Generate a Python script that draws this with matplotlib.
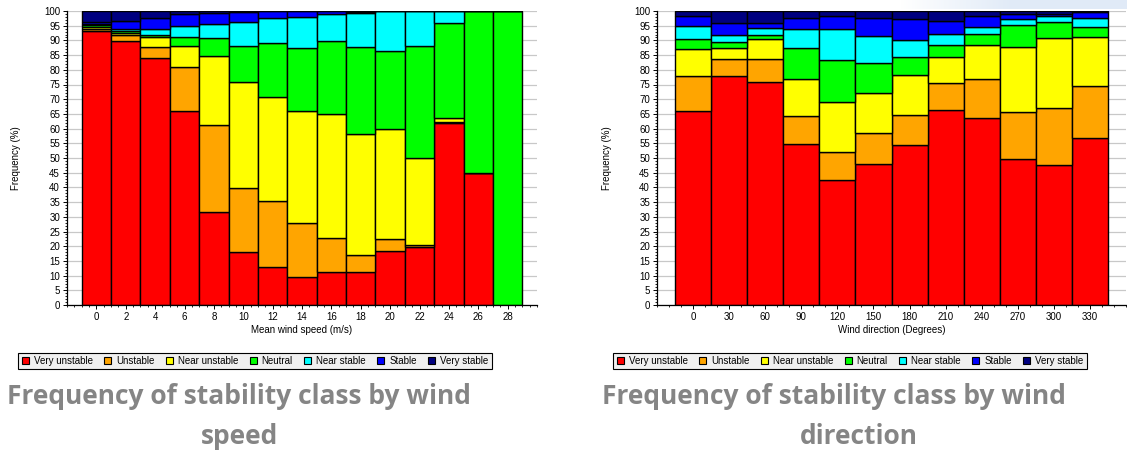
import numpy as np
import matplotlib
matplotlib.use("Agg")
import matplotlib.pyplot as plt
from matplotlib.ticker import MultipleLocator
from matplotlib.patches import Patch

# Stability classes and their colours
classes = ["Very unstable", "Unstable", "Near unstable", "Neutral",
           "Near stable", "Stable", "Very stable"]
class_colors = ["#ff0000", "#ffa500", "#ffff00", "#00ff00",
                "#00ffff", "#0000ff", "#000080"]

# Frequency (%) of each class by mean wind speed (m/s)
speeds = [0, 2, 4, 6, 8, 10, 12, 14, 16, 18, 20, 22, 24, 26, 28]
spd_very_unstable = [93.3, 89.9, 83.9, 66.1, 31.7, 17.9, 13.0, 9.6, 11.3, 11.3, 18.5, 19.8, 61.9, 45.0, 0.0]
spd_unstable      = [0.7, 1.9, 4.0, 15.0, 29.5, 21.8, 22.4, 18.2, 11.4, 5.7, 4.1, 0.7, 0.4, 0.0, 0.0]
spd_near_unstable = [0.5, 0.7, 3.1, 7.1, 23.5, 36.3, 35.5, 38.3, 42.2, 41.0, 37.4, 29.4, 1.4, 0.0, 0.0]
spd_neutral       = [0.7, 0.7, 1.0, 3.1, 6.0, 12.1, 18.3, 21.4, 25.0, 29.6, 26.4, 38.3, 32.1, 55.0, 100.0]
spd_near_stable   = [0.3, 0.7, 1.8, 3.6, 4.9, 8.2, 8.5, 10.6, 9.0, 11.8, 13.6, 11.8, 4.2, 0.0, 0.0]
spd_stable        = [0.8, 2.8, 3.7, 4.0, 3.6, 3.3, 2.3, 1.9, 1.1, 0.3, 0.0, 0.0, 0.0, 0.0, 0.0]
spd_very_stable   = [3.7, 3.3, 2.5, 1.1, 0.8, 0.4, 0.0, 0.0, 0.0, 0.3, 0.0, 0.0, 0.0, 0.0, 0.0]

# Frequency (%) of each class by wind direction (degrees)
directions = [0, 30, 60, 90, 120, 150, 180, 210, 240, 270, 300, 330]
dir_very_unstable = [66.0, 77.8, 75.9, 54.8, 42.4, 48.0, 54.5, 66.3, 63.7, 49.6, 47.6, 56.9]
dir_unstable      = [11.9, 5.9, 7.8, 9.6, 9.8, 10.4, 10.1, 9.3, 13.3, 16.2, 19.5, 17.6]
dir_near_unstable = [9.2, 3.8, 6.8, 12.5, 16.7, 13.8, 13.6, 8.6, 11.4, 22.1, 23.8, 16.5]
dir_neutral       = [3.3, 1.8, 1.5, 10.4, 14.3, 10.0, 6.0, 4.2, 3.7, 7.2, 5.4, 3.7]
dir_near_stable   = [4.4, 2.6, 2.2, 6.7, 10.7, 9.4, 5.9, 3.7, 2.6, 2.3, 1.9, 2.8]
dir_stable        = [3.4, 4.0, 1.8, 3.5, 4.5, 6.1, 7.1, 4.6, 3.6, 1.5, 0.9, 2.0]
dir_very_stable   = [1.8, 4.1, 4.0, 2.5, 1.6, 2.3, 2.8, 3.3, 1.7, 1.1, 0.9, 0.5]

speed_series = [spd_very_unstable, spd_unstable, spd_near_unstable, spd_neutral,
                spd_near_stable, spd_stable, spd_very_stable]
dir_series = [dir_very_unstable, dir_unstable, dir_near_unstable, dir_neutral,
              dir_near_stable, dir_stable, dir_very_stable]

TICK_FONT = dict(family="Liberation Sans", size=7)
TITLE_COLOR = "#858585"

W, H = 1127, 451
fig = plt.figure(figsize=(W / 100, H / 100), dpi=100)
fig.patch.set_facecolor("white")


def px_axes(x0, x1, y_top, y_bot):
    return fig.add_axes([x0 / W, 1 - y_bot / H, (x1 - x0) / W, (y_bot - y_top) / H])


def stacked(ax, x, series, width, xlim, minor, xlabel):
    x = np.asarray(x, dtype=float)
    bottom = np.zeros(len(x))
    for vals, col in zip(series, class_colors):
        vals = np.asarray(vals, dtype=float)
        ax.bar(x, vals, width, bottom=bottom, color=col, edgecolor="black",
               linewidth=1.0, zorder=2)
        bottom += vals
    ax.set_xlim(*xlim)
    ax.set_ylim(0, 100)
    ax.set_xticks(x)
    ax.xaxis.set_minor_locator(MultipleLocator(minor))
    ax.yaxis.set_major_locator(MultipleLocator(5))
    ax.yaxis.set_minor_locator(MultipleLocator(1))
    ax.grid(axis="y", which="major", color="#c8c8c8", linewidth=0.9, zorder=0)
    ax.set_axisbelow(True)
    for side in ("top", "right"):
        ax.spines[side].set_visible(False)
    for side in ("left", "bottom"):
        ax.spines[side].set_linewidth(0.9)
    ax.tick_params(which="major", length=3, width=0.7, pad=2)
    ax.tick_params(which="minor", length=1.5, width=0.6)
    for lab in ax.get_xticklabels() + ax.get_yticklabels():
        lab.set_fontfamily(TICK_FONT["family"])
        lab.set_fontsize(TICK_FONT["size"])
    ax.set_ylabel("Frequency (%)", **TICK_FONT)
    ax.yaxis.set_label_coords(-0.097, 0.5)
    ax.set_xlabel(xlabel, labelpad=2, **TICK_FONT)


ax1 = px_axes(67, 537, 11, 305)
stacked(ax1, speeds, speed_series, 2, (-2, 30), 0.5, "Mean wind speed (m/s)")

ax2 = px_axes(657, 1126, 11, 305)
stacked(ax2, directions, dir_series, 30, (-30, 360), 10, "Wind direction (Degrees)")

# Legends below each chart
handles = [Patch(facecolor=c, edgecolor="black", linewidth=0.8) for c in class_colors]
for cx in (255, 850):
    leg = fig.legend(handles, classes, ncol=7, loc="center",
                     bbox_to_anchor=(cx / W, 1 - 361 / H),
                     prop=dict(family="Liberation Sans", size=7),
                     frameon=True, fancybox=False, framealpha=1,
                     facecolor="#f0f0f0", edgecolor="black",
                     handlelength=0.75, handleheight=0.75, handletextpad=0.5,
                     columnspacing=1.15, borderpad=0.35)
    leg.get_frame().set_linewidth(0.8)

# Captions
cap = dict(family="Open Sans", weight="bold", size=19, color=TITLE_COLOR,
           ha="center", va="center")
fig.text(239 / W, 1 - 396 / H, "Frequency of stability class by wind", **cap)
fig.text(240 / W, 1 - 436 / H, "speed", **cap)
fig.text(834 / W, 1 - 396 / H, "Frequency of stability class by wind", **cap)
fig.text(859 / W, 1 - 436 / H, "direction", **cap)

# Faint banner in the top-right corner
bax = fig.add_axes([900 / W, 1 - 9 / H, 227 / W, 9 / H], zorder=-1)
grad = np.linspace(0, 1, 256)[None, :]
rgba = np.zeros((1, 256, 4))
rgba[..., 0] = 0.88
rgba[..., 1] = 0.92
rgba[..., 2] = 0.97
rgba[..., 3] = np.clip(grad * 2.0, 0, 1)
bax.imshow(rgba, aspect="auto", extent=(0, 1, 0, 1))
bax.axis("off")

fig.savefig("out.png", dpi=100)
